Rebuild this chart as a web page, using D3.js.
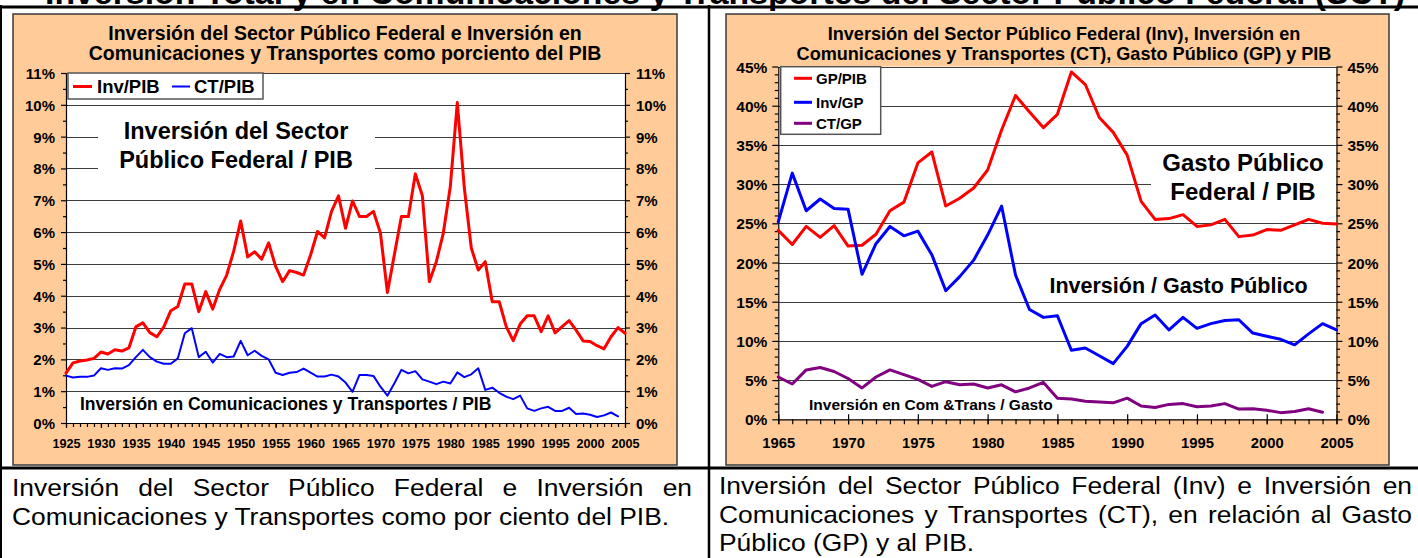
<!DOCTYPE html>
<html><head><meta charset="utf-8">
<script src="https://cdn.jsdelivr.net/npm/d3@7"></script>
<style>
body{margin:0;background:#fff;}
svg{display:block;}
text{font-family:"Liberation Sans",Arial,Helvetica,sans-serif;}
</style></head><body>
<svg id="fig" width="1418" height="558"></svg>
<script>
// ---------- data (percent values) ----------
const startA = 1925;   // first year, left chart
const invPib = [1.57,1.89,1.95,1.98,2.03,2.23,2.17,2.30,2.26,2.36,
  3.02,3.15,2.84,2.71,3.02,3.53,3.66,4.37,4.37,3.50,
  4.13,3.58,4.20,4.65,5.40,6.35,5.22,5.38,5.15,5.66,
  4.92,4.44,4.79,4.73,4.65,5.28,6.02,5.82,6.65,7.14,
  6.12,6.98,6.49,6.49,6.65,5.97,4.10,5.30,6.49,6.49,
  7.83,7.14,4.44,5.07,5.97,7.43,10.07,7.40,5.50,4.81,
  5.07,3.81,3.81,3.03,2.59,3.11,3.37,3.37,2.87,3.37,
  2.83,3.03,3.22,2.92,2.58,2.56,2.43,2.33,2.71,3.00,2.82];
const ctPib = [1.49,1.43,1.45,1.45,1.49,1.72,1.67,1.72,1.71,1.82,
  2.07,2.30,2.07,1.93,1.86,1.86,2.03,2.82,2.98,2.07,
  2.24,1.90,2.17,2.07,2.09,2.58,2.13,2.27,2.11,2.00,
  1.58,1.51,1.58,1.60,1.71,1.58,1.46,1.46,1.52,1.46,
  1.27,0.98,1.51,1.51,1.48,1.14,0.86,1.25,1.67,1.56,
  1.63,1.37,1.30,1.22,1.30,1.24,1.59,1.44,1.53,1.72,
  1.04,1.11,0.95,0.83,0.75,0.86,0.46,0.38,0.46,0.51,
  0.38,0.38,0.48,0.28,0.30,0.26,0.19,0.24,0.33,0.21];

const startB = 1965;   // first year, right chart
const gpPib = [24.1,22.3,24.6,23.2,24.7,22.1,22.2,23.6,26.6,27.7,
  32.7,34.1,27.2,28.2,29.5,31.8,36.9,41.3,39.2,37.2,
  38.9,44.3,42.7,38.5,36.6,33.7,27.8,25.5,25.6,26.1,
  24.6,24.8,25.5,23.3,23.5,24.2,24.1,24.8,25.5,25.0,24.9];
const invGp = [25.2,31.4,26.6,28.1,26.9,26.8,18.5,22.4,24.6,23.4,
  24.0,21.0,16.4,18.2,20.3,23.5,27.2,18.4,14.0,13.0,
  13.2,8.8,9.1,8.1,7.1,9.3,12.2,13.3,11.4,13.0,
  11.6,12.2,12.6,12.7,11.0,10.6,10.2,9.5,10.9,12.2,11.4];
const ctGp = [5.4,4.5,6.3,6.6,6.1,5.2,4.0,5.4,6.3,5.7,
  5.1,4.2,4.8,4.4,4.5,4.0,4.4,3.5,4.0,4.7,
  2.7,2.6,2.3,2.2,2.1,2.7,1.7,1.5,1.9,2.0,
  1.6,1.7,2.0,1.3,1.35,1.15,0.85,1.0,1.35,0.9];

// tick labels
const yTicksA = [0,1,2,3,4,5,6,7,8,9,10,11];
const xTicksA = [1925,1930,1935,1940,1945,1950,1955,1960,1965,1970,1975,1980,1985,1990,1995,2000,2005];
const yTicksB = [0,5,10,15,20,25,30,35,40,45];
const xTicksB = [1965,1970,1975,1980,1985,1990,1995,2000,2005];

const seriesOf = (start, vals) => vals.map((v, i) => ({year: start + i, v}));

// ---------- drawing ----------
const svg = d3.select('#fig');
svg.append('rect').attr('width', 1418).attr('height', 558).attr('fill', '#fff');

const ORANGE = '#FFCC99';

function label(g, s, x, y, size, anchor = 'start', weight = 'bold', sx = 1) {
  const t = g.append('text')
    .attr('transform', `translate(${x},${y}) scale(${sx},1)`)
    .attr('font-size', size).attr('font-weight', weight)
    .attr('text-anchor', anchor).attr('fill', '#000').text(s);
  return t;
}

function panel(cfg) {
  const g = svg.append('g');
  const [bx0, by0, bx1, by1] = cfg.box;
  g.append('rect').attr('x', bx0).attr('y', by0).attr('width', bx1 - bx0).attr('height', by1 - by0)
    .attr('fill', ORANGE).attr('stroke', '#3a3a3a').attr('stroke-width', 1.5);

  cfg.title.forEach((s, i) => label(g, s, cfg.titleX, cfg.titleY[i], cfg.titleSize, 'middle'));

  const [px0, py0, px1, py1] = cfg.plot;
  const x = d3.scaleLinear().domain(cfg.xDomain).range([px0, px1]);
  const y = d3.scaleLinear().domain(cfg.yDomain).range([py1, py0]);

  g.append('rect').attr('x', px0).attr('y', py0).attr('width', px1 - px0).attr('height', py1 - py0).attr('fill', '#fff');

  // horizontal gridlines
  g.append('g').selectAll('line').data(cfg.yTicks.filter(d => d > 0)).join('line')
    .attr('x1', px0).attr('x2', px1)
    .attr('y1', d => Math.round(y(d)) + 0.5).attr('y2', d => Math.round(y(d)) + 0.5)
    .attr('stroke', '#3c3c3c').attr('stroke-width', 1);

  // white backing behind annotation text
  (cfg.masks || []).forEach(m => g.append('rect').attr('x', m[0]).attr('y', m[1])
    .attr('width', m[2] - m[0]).attr('height', m[3] - m[1]).attr('fill', '#fff'));

  // y axes, left and right
  const styleAxis = sel => { sel.selectAll('path,line').attr('stroke', '#000').attr('stroke-width', 1.2); };
  const yLeftMinor = g.append('g').attr('transform', `translate(${px0},0)`)
    .call(d3.axisLeft(y).tickValues(cfg.yMinor).tickSize(cfg.minorLen).tickFormat('').tickSizeOuter(0));
  yLeftMinor.select('.domain').remove();
  const yLeft = g.append('g').attr('transform', `translate(${px0},0)`)
    .call(d3.axisLeft(y).tickValues(cfg.yTicks).tickSize(cfg.majorLen).tickPadding(cfg.yPad)
      .tickSizeOuter(0).tickFormat(d => d + '%'));
  const yRightMinor = g.append('g').attr('transform', `translate(${px1},0)`)
    .call(d3.axisRight(y).tickValues(cfg.yMinor).tickSize(cfg.minorLen).tickFormat('').tickSizeOuter(0));
  yRightMinor.select('.domain').remove();
  const yRight = g.append('g').attr('transform', `translate(${px1},0)`)
    .call(d3.axisRight(y).tickValues(cfg.yTicks).tickSize(cfg.majorLen).tickPadding(cfg.yPad)
      .tickSizeOuter(0).tickFormat(d => d + '%'));
  [yLeftMinor, yLeft, yRightMinor, yRight].forEach(styleAxis);
  [yLeft, yRight].forEach(a => a.selectAll('text').attr('font-size', cfg.yFont).attr('font-weight', 'bold')
    .attr('fill', '#000').attr('font-family', null).attr('dy', '0.36em'));

  // x axis
  const xMinor = g.append('g').attr('transform', `translate(0,${py1})`)
    .call(d3.axisBottom(x).tickValues(cfg.years).tickSize(cfg.xMinorLen).tickFormat('').tickSizeOuter(0));
  xMinor.select('.domain').remove();
  const xAx = g.append('g').attr('transform', `translate(0,${py1})`)
    .call(d3.axisBottom(x).tickValues(cfg.xTicks).tickSize(cfg.xMajorLen).tickSizeOuter(0).tickFormat(d3.format('d')));
  xAx.selectAll('.tick line').attr('y1', -cfg.xMajorIn);
  [xMinor, xAx].forEach(styleAxis);
  xAx.selectAll('text').attr('font-size', cfg.xFont).attr('font-weight', 'bold').attr('fill', '#000')
    .attr('font-family', null).attr('y', cfg.xLabelY).attr('dy', null);

  // annotations
  (cfg.notes || []).forEach(n => label(g, n.text, n.x, n.y, n.size, n.anchor || 'start'));

  // series
  const line = d3.line().x(d => x(d.year)).y(d => y(d.v));
  cfg.series.forEach(s => g.append('path').datum(s.data).attr('d', line)
    .attr('fill', 'none').attr('stroke', s.color).attr('stroke-width', s.width)
    .attr('stroke-linejoin', 'round').attr('stroke-linecap', 'round'));

  // legend
  const L = cfg.legend;
  g.append('rect').attr('x', L.box[0]).attr('y', L.box[1]).attr('width', L.box[2] - L.box[0])
    .attr('height', L.box[3] - L.box[1]).attr('fill', '#fff').attr('stroke', '#555').attr('stroke-width', 1.5);
  L.items.forEach(it => {
    g.append('line').attr('x1', it.lx0).attr('x2', it.lx1).attr('y1', it.ly).attr('y2', it.ly)
      .attr('stroke', it.color).attr('stroke-width', it.width);
    label(g, it.text, it.tx, it.ty, L.size);
  });
}

// top heading (runs off the upper edge)
label(svg, 'Inversión Total y en Comunicaciones y Transportes del Sector Público Federal (SCT)', 725, 4, 33, 'middle')
  .attr('textLength', 1360).attr('lengthAdjust', 'spacingAndGlyphs');

// left chart
panel({
  box: [13, 14, 677, 465],
  title: ['Inversión del Sector Público Federal e Inversión en', 'Comunicaciones y Transportes como porciento del PIB'],
  titleX: 345, titleY: [40, 60], titleSize: 19.5,
  plot: [66, 73, 625, 423],
  xDomain: [1925, 2005], yDomain: [0, 11],
  yTicks: yTicksA, yMinor: yTicksA.slice(0, -1).map(d => d + 0.5),
  majorLen: 5, minorLen: 3, yPad: 6, yFont: 15,
  years: d3.range(1925, 2006), xTicks: xTicksA, xMinorLen: 4, xMajorLen: 5, xMajorIn: 0,
  xFont: 12.7, xLabelY: 25,
  masks: [[98, 110, 375, 193]],
  notes: [
    {text: 'Inversión del Sector', x: 236, y: 139, size: 23.5, anchor: 'middle'},
    {text: 'Público Federal / PIB', x: 236, y: 168, size: 23.5, anchor: 'middle'},
    {text: 'Inversión en Comunicaciones y Transportes  / PIB', x: 80, y: 410, size: 17.5}
  ],
  series: [
    {data: seriesOf(startA, invPib), color: '#FF0000', width: 3},
    {data: seriesOf(startA, ctPib), color: '#0000FF', width: 2}
  ],
  legend: {
    box: [68, 73, 263, 99], size: 18.5,
    items: [
      {text: 'Inv/PIB', color: '#FF0000', width: 3, lx0: 73, lx1: 92, ly: 86.5, tx: 97, ty: 93},
      {text: 'CT/PIB', color: '#0000FF', width: 2, lx0: 172, lx1: 190, ly: 86.5, tx: 194, ty: 93}
    ]
  }
});

// right chart
panel({
  box: [726, 14, 1389, 465],
  title: ['Inversión del Sector Público Federal (Inv), Inversión en', 'Comunicaciones y Transportes (CT), Gasto Público (GP) y PIB'],
  titleX: 1064, titleY: [40, 60], titleSize: 18.1,
  plot: [778.3, 66.5, 1336.5, 419.3],
  xDomain: [1965, 2005], yDomain: [0, 45],
  yTicks: yTicksB, yMinor: d3.range(1, 45).filter(d => d % 5 !== 0),
  majorLen: 6, minorLen: 3.5, yPad: 5, yFont: 15.5,
  years: d3.range(1965, 2006), xTicks: xTicksB, xMinorLen: 5, xMajorLen: 5, xMajorIn: 5,
  xFont: 14.8, xLabelY: 29,
  masks: [[1151, 150, 1336, 215]],
  notes: [
    {text: 'Gasto Público', x: 1243, y: 171, size: 24, anchor: 'middle'},
    {text: 'Federal / PIB', x: 1243, y: 200, size: 24, anchor: 'middle'},
    {text: 'Inversión / Gasto Público', x: 1178.5, y: 293, size: 21.5, anchor: 'middle'},
    {text: 'Inversión en Com &Trans / Gasto', x: 809, y: 410, size: 15.5}
  ],
  series: [
    {data: seriesOf(startB, gpPib), color: '#FF0000', width: 3},
    {data: seriesOf(startB, invGp), color: '#0000FF', width: 3},
    {data: seriesOf(startB, ctGp), color: '#800080', width: 3}
  ],
  legend: {
    box: [780.7, 66.7, 880.7, 134.3], size: 15,
    items: [
      {text: 'GP/PIB', color: '#FF0000', width: 3, lx0: 794, lx1: 812, ly: 78.3, tx: 816, ty: 83.8},
      {text: 'Inv/GP', color: '#0000FF', width: 3, lx0: 794, lx1: 812, ly: 102.3, tx: 816, ty: 107.8},
      {text: 'CT/GP', color: '#800080', width: 3, lx0: 794, lx1: 812, ly: 123.3, tx: 816, ty: 128.8}
    ]
  }
});

// table rules
const rules = svg.append('g').attr('stroke', '#000');
rules.append('line').attr('x1', 0).attr('x2', 1418).attr('y1', 7).attr('y2', 7).attr('stroke-width', 3);
rules.append('line').attr('x1', 0).attr('x2', 1418).attr('y1', 468).attr('y2', 468).attr('stroke-width', 3);
rules.append('line').attr('x1', 709).attr('x2', 709).attr('y1', 5).attr('y2', 558).attr('stroke-width', 2.5);
rules.append('line').attr('x1', 1).attr('x2', 1).attr('y1', 5).attr('y2', 558).attr('stroke-width', 2);

// captions under each chart
const CAP = 24, CAPSX = 1.1;
function captionLine(str, x0, x1, y, justify) {
  const g = svg.append('g');
  if (!justify) { label(g, str, x0, y, CAP, 'start', 'normal', CAPSX); return; }
  const words = str.split(' ');
  const nodes = words.map(w => label(g, w, 0, y, CAP, 'start', 'normal', CAPSX));
  const widths = nodes.map(n => n.node().getComputedTextLength() * CAPSX);
  const gap = (x1 - x0 - d3.sum(widths)) / (words.length - 1);
  let cx = x0;
  nodes.forEach((n, i) => { n.attr('transform', `translate(${cx},${y}) scale(${CAPSX},1)`); cx += widths[i] + gap; });
}
captionLine('Inversión del Sector Público Federal e Inversión en', 12, 692, 496, true);
captionLine('Comunicaciones y Transportes como por ciento del PIB.', 12, 692, 525, false);
captionLine('Inversión del Sector Público Federal (Inv) e Inversión en', 719, 1412, 494, true);
captionLine('Comunicaciones y Transportes (CT), en relación al Gasto', 719, 1412, 523, true);
captionLine('Público (GP) y al PIB.', 719, 1412, 551, false);
</script>
</body></html>
